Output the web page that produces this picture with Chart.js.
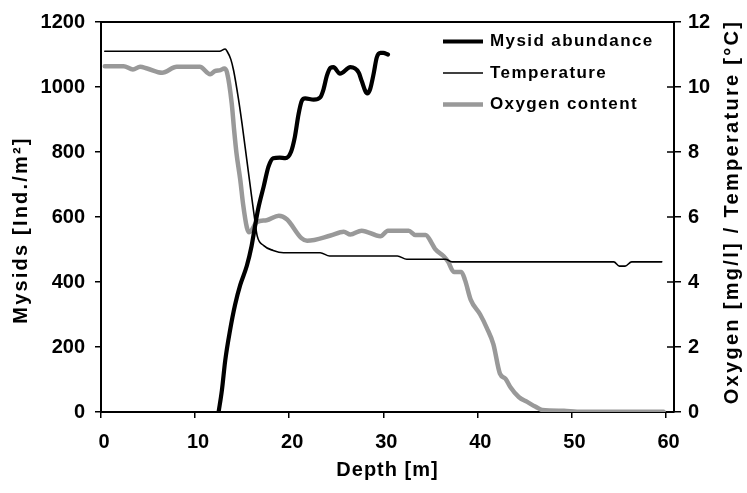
<!DOCTYPE html>
<html>
<head>
<meta charset="utf-8">
<script src="https://cdn.jsdelivr.net/npm/chart.js@4.4.1/dist/chart.umd.min.js"></script>
<style>
  html, body { margin: 0; padding: 0; background: #fff; }
  #wrap { width: 747px; height: 493px; }
</style>
</head>
<body>
<div id="wrap"><canvas id="chart" width="747" height="493"></canvas></div>
<script>
// Depth profile: mysid abundance against temperature and oxygen
const mysidDepth = [12.5, 12.85, 13.2, 13.7, 14.25, 14.8, 15.5, 16.0, 16.2, 16.7, 17.3, 17.8, 18.3, 19.0, 19.6, 20.2, 20.6, 21.0, 21.35, 21.7, 22.6, 23.3, 23.65, 24.0, 24.4, 24.7, 25.4, 26.5, 27.4, 27.7, 28.3, 28.6, 29.0, 29.3, 29.7, 30.0, 30.5];
const mysidCount = [0, 67, 158, 249, 330, 391, 450, 510, 543, 624, 695, 755, 781, 783, 781, 801, 846, 917, 958, 965, 961, 968, 993, 1034, 1059, 1061, 1041, 1061, 1044, 1019, 980, 993, 1044, 1090, 1105, 1105, 1100];

const tempDepth = [0.4, 12.6, 13.2, 13.4, 13.8, 14.1, 14.6, 15.0, 15.5, 16.0, 16.35, 16.6, 17.3, 18.3, 19.4, 23.3, 24.3, 31.5, 32.5, 36.6, 37.3, 54.5, 55.1, 55.7, 56.4, 59.6];
const tempValues = [11.1, 11.1, 11.17, 11.1, 10.85, 10.5, 9.65, 8.85, 7.75, 6.65, 5.9, 5.42, 5.12, 4.97, 4.9, 4.9, 4.8, 4.8, 4.7, 4.7, 4.62, 4.62, 4.49, 4.49, 4.62, 4.62];

const oxyDepth = [0.4, 2.4, 3.4, 4.15, 4.9, 6.5, 8.05, 10.5, 11.6, 12.1, 12.7, 13.1, 13.4, 13.9, 14.15, 14.4, 14.8, 15.1, 15.5, 15.75, 16.6, 17.6, 18.9, 19.75, 21.3, 21.9, 24.4, 25.8, 26.5, 27.7, 29.7, 30.5, 32.7, 33.4, 34.5, 35.2, 35.5, 36.4, 36.9, 37.5, 38.3, 38.7, 39.3, 40.3, 41.0, 41.7, 42.4, 43.0, 43.5, 44.4, 45.3, 46.2, 46.9, 49.2, 50.6, 59.8];
const oxyValues = [10.64, 10.64, 10.54, 10.62, 10.57, 10.44, 10.62, 10.62, 10.39, 10.49, 10.52, 10.57, 10.44, 9.48, 8.67, 7.96, 7.15, 6.4, 5.68, 5.53, 5.85, 5.9, 6.04, 5.93, 5.35, 5.27, 5.43, 5.55, 5.46, 5.58, 5.41, 5.58, 5.58, 5.45, 5.45, 5.17, 5.02, 4.8, 4.62, 4.31, 4.31, 4.05, 3.45, 3.0, 2.59, 2.09, 1.18, 1.02, 0.77, 0.46, 0.31, 0.16, 0.06, 0.04, 0.01, 0.01];

const depthTicks = [0, 10, 20, 30, 40, 50, 60];
const mysidTicks = [0, 200, 400, 600, 800, 1000, 1200];
const envTicks = [0, 2, 4, 6, 8, 10, 12];

const FONT = "'Liberation Sans', Arial, sans-serif";

function zip(xs, ys) {
    return xs.map((x, i) => ({ x, y: ys[i] }));
}

function useTicks(values) {
    return scale => { scale.ticks = values.map(v => ({ value: v })); };
}

// titles, legend, top border and the inner half of the right-hand ticks
const overlay = {
    id: 'overlay',
    afterDraw(chart) {
        const { ctx, chartArea } = chart;
        const y2 = chart.scales.y2;
        ctx.save();
        ctx.strokeStyle = '#000';
        ctx.lineWidth = 2;
        ctx.beginPath();
        ctx.moveTo(chartArea.left, chartArea.top);
        ctx.lineTo(chartArea.right, chartArea.top);
        ctx.stroke();

        ctx.lineWidth = 1.5;
        y2.ticks.forEach(t => {
            const py = y2.getPixelForValue(t.value);
            ctx.beginPath();
            ctx.moveTo(chartArea.right - 7, py);
            ctx.lineTo(chartArea.right, py);
            ctx.stroke();
        });

        ctx.fillStyle = '#000';
        ctx.font = 'bold 20px ' + FONT;
        ctx.textAlign = 'center';
        ctx.textBaseline = 'middle';
        ctx.letterSpacing = '1px';
        ctx.fillText('Depth [m]', (chartArea.left + chartArea.right) / 2, 470);

        ctx.save();
        ctx.letterSpacing = '2.2px';
        ctx.translate(21, 230);
        ctx.rotate(-Math.PI / 2);
        ctx.fillText('Mysids [Ind./m²]', 0, 0);
        ctx.restore();
        ctx.save();
        ctx.letterSpacing = '2.3px';
        ctx.translate(732, 212);
        ctx.rotate(-Math.PI / 2);
        ctx.fillText('Oxygen [mg/l] / Temperature [°C]', 0, 0);
        ctx.restore();

        // legend
        ctx.font = 'bold 17px ' + FONT;
        ctx.letterSpacing = '1.4px';
        ctx.textAlign = 'left';
        chart.data.datasets.forEach((ds, i) => {
            const ly = 41.5 + i * 31.5;
            ctx.strokeStyle = ds.borderColor;
            ctx.lineWidth = ds.borderWidth;
            ctx.beginPath();
            ctx.moveTo(443, ly);
            ctx.lineTo(483, ly);
            ctx.stroke();
            ctx.fillText(ds.label, 490, ly);
        });
        ctx.restore();
    }
};

const tickFont = { family: FONT, size: 20, weight: 'bold' };
const plain = v => String(v);

new Chart(document.getElementById('chart'), {
    type: 'line',
    data: {
        datasets: [
            { label: 'Mysid abundance', data: zip(mysidDepth, mysidCount), yAxisID: 'y', borderColor: '#000000', borderWidth: 4.2 },
            { label: 'Temperature', data: zip(tempDepth, tempValues), yAxisID: 'y2', borderColor: '#000000', borderWidth: 1.6 },
            { label: 'Oxygen content', data: zip(oxyDepth, oxyValues), yAxisID: 'y2', borderColor: '#999999', borderWidth: 4.5 }
        ]
    },
    options: {
        responsive: false,
        animation: false,
        devicePixelRatio: 1,
        layout: { padding: { top: 17, left: 0, right: 0, bottom: 0 } },
        elements: {
            point: { radius: 0 },
            line: { cubicInterpolationMode: 'monotone', borderCapStyle: 'round', borderJoinStyle: 'round' }
        },
        plugins: { legend: { display: false }, tooltip: { enabled: false } },
        scales: {
            x: {
                type: 'linear',
                min: 0,
                max: 60.9,
                afterBuildTicks: useTicks(depthTicks),
                afterFit: s => { s.height = 81; },
                border: { color: '#000', width: 2 },
                grid: { drawOnChartArea: false, tickLength: 6, color: '#000', lineWidth: 1.5 },
                ticks: { color: '#000', font: tickFont, padding: 12, labelOffset: 3, maxRotation: 0, callback: plain }
            },
            y: {
                position: 'left',
                min: 0,
                max: 1200,
                afterBuildTicks: useTicks(mysidTicks),
                afterFit: s => { s.width = 101; },
                border: { color: '#000', width: 2 },
                grid: { drawOnChartArea: false, tickLength: 6, color: '#000', lineWidth: 1.5 },
                ticks: { color: '#000', font: tickFont, padding: 10, callback: plain }
            },
            y2: {
                position: 'right',
                min: 0,
                max: 12,
                afterBuildTicks: useTicks(envTicks),
                afterFit: s => { s.width = 73; },
                border: { color: '#000', width: 2 },
                grid: { drawOnChartArea: false, tickLength: 7, color: '#000', lineWidth: 1.5 },
                ticks: { color: '#000', font: tickFont, padding: 7, callback: plain }
            }
        }
    },
    plugins: [overlay]
});
</script>
</body>
</html>
